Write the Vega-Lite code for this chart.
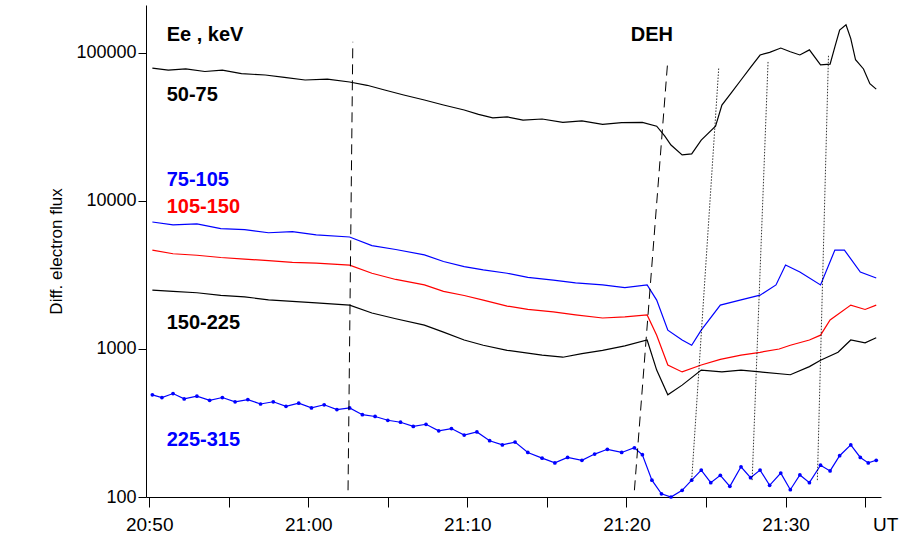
{
  "$schema": "https://vega.github.io/schema/vega-lite/v6.json",
  "width": 735,
  "height": 492,
  "autosize": {"type": "none"},
  "padding": {"left": 146, "top": 5, "right": 31, "bottom": 54},
  "background": "white",
  "config": {"view": {"stroke": null}, "font": "Liberation Sans"},
  "datasets": {
    "flux": [
      {"s":"a","t":0.2,"v":79000},{"s":"a","t":1.2,"v":76500},{"s":"a","t":2.3,"v":78000},{"s":"a","t":3.5,"v":75000},{"s":"a","t":4.6,"v":76500},{"s":"a","t":5.8,"v":72500},{"s":"a","t":7.3,"v":71000},{"s":"a","t":8.5,"v":68500},{"s":"a","t":9.8,"v":65700},{"s":"a","t":11.2,"v":66500},{"s":"a","t":12.6,"v":63700},{"s":"a","t":13.7,"v":60500},{"s":"a","t":14.8,"v":56200},{"s":"a","t":16.0,"v":52000},{"s":"a","t":17.3,"v":48100},{"s":"a","t":18.5,"v":44500},{"s":"a","t":19.8,"v":41200},{"s":"a","t":20.7,"v":38500},{"s":"a","t":21.6,"v":36400},{"s":"a","t":22.5,"v":37000},{"s":"a","t":23.5,"v":35200},{"s":"a","t":24.7,"v":35800},{"s":"a","t":26.0,"v":34000},{"s":"a","t":27.2,"v":34800},{"s":"a","t":28.5,"v":32900},{"s":"a","t":29.7,"v":33800},{"s":"a","t":31.0,"v":34000},{"s":"a","t":31.9,"v":32000},{"s":"a","t":32.4,"v":27500},{"s":"a","t":32.8,"v":23900},{"s":"a","t":33.5,"v":20500},{"s":"a","t":34.1,"v":20800},{"s":"a","t":34.7,"v":25800},{"s":"a","t":35.6,"v":32000},{"s":"a","t":36.0,"v":44500},{"s":"a","t":36.6,"v":54000},{"s":"a","t":37.2,"v":65700},{"s":"a","t":37.8,"v":80000},{"s":"a","t":38.4,"v":96900},{"s":"a","t":39.0,"v":101000},{"s":"a","t":39.7,"v":108000},{"s":"a","t":40.3,"v":102000},{"s":"a","t":40.9,"v":97000},{"s":"a","t":41.5,"v":105000},{"s":"a","t":42.2,"v":83000},{"s":"a","t":42.8,"v":84000},{"s":"a","t":43.1,"v":110000},{"s":"a","t":43.4,"v":143000},{"s":"a","t":43.8,"v":155000},{"s":"a","t":44.1,"v":125000},{"s":"a","t":44.4,"v":90000},{"s":"a","t":44.9,"v":78000},{"s":"a","t":45.3,"v":62000},{"s":"a","t":45.7,"v":57000},

      {"s":"b","t":0.2,"v":7210},{"s":"b","t":1.5,"v":6900},{"s":"b","t":3.0,"v":7000},{"s":"b","t":4.5,"v":6500},{"s":"b","t":6.0,"v":6400},{"s":"b","t":7.5,"v":6100},{"s":"b","t":9.0,"v":6200},{"s":"b","t":10.5,"v":5900},{"s":"b","t":12.6,"v":5710},{"s":"b","t":14.0,"v":5000},{"s":"b","t":15.5,"v":4700},{"s":"b","t":17.3,"v":4320},{"s":"b","t":18.5,"v":3900},{"s":"b","t":19.8,"v":3600},{"s":"b","t":21.0,"v":3420},{"s":"b","t":22.5,"v":3250},{"s":"b","t":23.8,"v":3050},{"s":"b","t":25.4,"v":2920},{"s":"b","t":26.8,"v":2800},{"s":"b","t":28.5,"v":2710},{"s":"b","t":29.9,"v":2600},{"s":"b","t":31.3,"v":2710},{"s":"b","t":31.9,"v":2140},{"s":"b","t":32.6,"v":1340},{"s":"b","t":33.5,"v":1150},{"s":"b","t":34.1,"v":1060},{"s":"b","t":34.7,"v":1340},{"s":"b","t":35.9,"v":1980},{"s":"b","t":37.2,"v":2150},{"s":"b","t":38.4,"v":2310},{"s":"b","t":39.4,"v":2710},{"s":"b","t":40.0,"v":3690},{"s":"b","t":40.9,"v":3310},{"s":"b","t":42.2,"v":2710},{"s":"b","t":43.1,"v":4660},{"s":"b","t":43.7,"v":4660},{"s":"b","t":44.7,"v":3310},{"s":"b","t":45.7,"v":3020},

      {"s":"c","t":0.2,"v":4660},{"s":"c","t":1.5,"v":4400},{"s":"c","t":3.0,"v":4300},{"s":"c","t":4.5,"v":4150},{"s":"c","t":6.0,"v":4050},{"s":"c","t":7.5,"v":3950},{"s":"c","t":9.0,"v":3850},{"s":"c","t":10.5,"v":3800},{"s":"c","t":12.6,"v":3690},{"s":"c","t":14.0,"v":3250},{"s":"c","t":15.5,"v":2950},{"s":"c","t":17.3,"v":2710},{"s":"c","t":18.5,"v":2450},{"s":"c","t":19.8,"v":2300},{"s":"c","t":21.0,"v":2140},{"s":"c","t":22.5,"v":1950},{"s":"c","t":23.8,"v":1850},{"s":"c","t":25.4,"v":1780},{"s":"c","t":26.8,"v":1700},{"s":"c","t":28.5,"v":1620},{"s":"c","t":29.9,"v":1650},{"s":"c","t":31.3,"v":1700},{"s":"c","t":31.9,"v":1240},{"s":"c","t":32.6,"v":780},{"s":"c","t":33.5,"v":700},{"s":"c","t":34.7,"v":780},{"s":"c","t":35.9,"v":850},{"s":"c","t":37.2,"v":910},{"s":"c","t":38.4,"v":950},{"s":"c","t":39.6,"v":1000},{"s":"c","t":40.3,"v":1060},{"s":"c","t":41.5,"v":1150},{"s":"c","t":42.2,"v":1240},{"s":"c","t":42.8,"v":1570},{"s":"c","t":44.1,"v":1980},{"s":"c","t":45.0,"v":1850},{"s":"c","t":45.7,"v":1980},

      {"s":"d","t":0.2,"v":2500},{"s":"d","t":1.5,"v":2450},{"s":"d","t":3.0,"v":2400},{"s":"d","t":4.5,"v":2300},{"s":"d","t":6.0,"v":2250},{"s":"d","t":7.5,"v":2150},{"s":"d","t":9.0,"v":2100},{"s":"d","t":10.5,"v":2050},{"s":"d","t":12.6,"v":1980},{"s":"d","t":14.0,"v":1750},{"s":"d","t":15.5,"v":1600},{"s":"d","t":17.3,"v":1450},{"s":"d","t":18.5,"v":1300},{"s":"d","t":19.8,"v":1150},{"s":"d","t":21.0,"v":1060},{"s":"d","t":22.5,"v":980},{"s":"d","t":24.7,"v":910},{"s":"d","t":26.0,"v":880},{"s":"d","t":27.2,"v":930},{"s":"d","t":28.5,"v":980},{"s":"d","t":29.9,"v":1050},{"s":"d","t":31.3,"v":1150},{"s":"d","t":31.9,"v":720},{"s":"d","t":32.6,"v":490},{"s":"d","t":33.5,"v":570},{"s":"d","t":34.7,"v":720},{"s":"d","t":36.0,"v":700},{"s":"d","t":37.2,"v":720},{"s":"d","t":38.4,"v":700},{"s":"d","t":40.3,"v":670},{"s":"d","t":41.5,"v":760},{"s":"d","t":42.2,"v":840},{"s":"d","t":43.3,"v":950},{"s":"d","t":44.1,"v":1150},{"s":"d","t":45.0,"v":1100},{"s":"d","t":45.7,"v":1190},

      {"s":"e","t":0.2,"v":490},{"s":"e","t":0.8,"v":470},{"s":"e","t":1.5,"v":500},{"s":"e","t":2.2,"v":460},{"s":"e","t":3.0,"v":480},{"s":"e","t":3.8,"v":450},{"s":"e","t":4.6,"v":470},{"s":"e","t":5.4,"v":440},{"s":"e","t":6.2,"v":455},{"s":"e","t":7.0,"v":425},{"s":"e","t":7.8,"v":440},{"s":"e","t":8.6,"v":410},{"s":"e","t":9.4,"v":430},{"s":"e","t":10.2,"v":400},{"s":"e","t":11.0,"v":420},{"s":"e","t":11.8,"v":390},{"s":"e","t":12.6,"v":400},{"s":"e","t":13.4,"v":360},{"s":"e","t":14.2,"v":350},{"s":"e","t":15.0,"v":330},{"s":"e","t":15.8,"v":320},{"s":"e","t":16.6,"v":300},{"s":"e","t":17.4,"v":310},{"s":"e","t":18.2,"v":280},{"s":"e","t":19.0,"v":290},{"s":"e","t":19.8,"v":262},{"s":"e","t":20.6,"v":275},{"s":"e","t":21.4,"v":240},{"s":"e","t":22.2,"v":225},{"s":"e","t":23.0,"v":235},{"s":"e","t":23.8,"v":200},{"s":"e","t":24.7,"v":183},{"s":"e","t":25.5,"v":170},{"s":"e","t":26.3,"v":185},{"s":"e","t":27.2,"v":177},{"s":"e","t":28.0,"v":195},{"s":"e","t":28.8,"v":210},{"s":"e","t":29.7,"v":200},{"s":"e","t":30.5,"v":215},{"s":"e","t":31.0,"v":193},{"s":"e","t":31.6,"v":130},{"s":"e","t":32.2,"v":105},{"s":"e","t":32.8,"v":100},{"s":"e","t":33.5,"v":111},{"s":"e","t":34.1,"v":130},{"s":"e","t":34.7,"v":152},{"s":"e","t":35.3,"v":125},{"s":"e","t":35.9,"v":140},{"s":"e","t":36.5,"v":118},{"s":"e","t":37.2,"v":160},{"s":"e","t":37.8,"v":135},{"s":"e","t":38.4,"v":152},{"s":"e","t":39.0,"v":120},{"s":"e","t":39.7,"v":145},{"s":"e","t":40.3,"v":112},{"s":"e","t":40.9,"v":141},{"s":"e","t":41.5,"v":125},{"s":"e","t":42.2,"v":164},{"s":"e","t":42.8,"v":150},{"s":"e","t":43.4,"v":190},{"s":"e","t":44.1,"v":225},{"s":"e","t":44.7,"v":185},{"s":"e","t":45.2,"v":170},{"s":"e","t":45.7,"v":177}
    ],
    "guides": [
      {"g":"d1","t":12.8,"v":119000},{"g":"d1","t":12.5,"v":111},
      {"g":"d2","t":32.6,"v":89800},{"g":"d2","t":30.5,"v":111},
      {"g":"p1","t":35.8,"v":79000},{"g":"p1","t":34.1,"v":130},
      {"g":"p2","t":38.9,"v":87000},{"g":"p2","t":37.9,"v":130},
      {"g":"p3","t":42.7,"v":97000},{"g":"p3","t":42.0,"v":130}
    ],
    "labels": [
      {"txt":"Ee , keV","t":1.1,"v":132000,"c":"black"},
      {"txt":"50-75","t":1.1,"v":52000,"c":"black"},
      {"txt":"75-105","t":1.1,"v":13900,"c":"#0000ff"},
      {"txt":"105-150","t":1.1,"v":9100,"c":"#ff0000"},
      {"txt":"150-225","t":1.1,"v":1500,"c":"black"},
      {"txt":"225-315","t":1.1,"v":243,"c":"#0000ff"}
    ]
  },
  "layer": [
    {
      "data": {"name": "flux"},
      "mark": {"type": "line", "strokeWidth": 1.2},
      "encoding": {
        "x": {"field": "t", "type": "quantitative", "scale": {"domain": [-0.2, 46], "nice": false, "zero": false},
          "axis": {"values": [0,5,10,15,20,25,30,35,40,45], "labelExpr": "datum.value % 10 == 0 ? ['20:50','21:00','21:10','21:20','21:30'][datum.value/10] : ''",
            "title": null, "grid": false, "domainColor": "black", "tickColor": "black", "tickSize": 10, "labelFontSize": 19, "labelColor": "black", "labelPadding": 8, "labelFont": "Liberation Sans"}},
        "y": {"field": "v", "type": "quantitative", "scale": {"type": "log", "domain": [100, 211000], "nice": false},
          "axis": {"values": [100, 1000, 10000, 100000], "format": "d", "title": "Diff. electron flux", "titleFontSize": 17, "titleFontWeight": "normal", "titleColor": "black", "titlePadding": 10,
            "grid": false, "domainColor": "black", "tickColor": "black", "tickSize": 8, "labelFontSize": 18, "labelColor": "black", "labelFont": "Liberation Sans"}},
        "color": {"field": "s", "type": "nominal", "legend": null,
          "scale": {"domain": ["a","b","c","d","e"], "range": ["black","#0000ff","#ff0000","black","#0000ff"]}},
        "detail": {"field": "s"}
      }
    },
    {
      "data": {"name": "flux"},
      "transform": [{"filter": "datum.s == 'e'"}],
      "mark": {"type": "circle", "size": 14, "color": "#0000ff", "opacity": 1},
      "encoding": {"x": {"field": "t", "type": "quantitative"}, "y": {"field": "v", "type": "quantitative"}}
    },
    {
      "data": {"name": "guides"},
      "transform": [{"filter": "datum.g[0] == 'd'"}],
      "mark": {"type": "line", "color": "black", "strokeWidth": 1, "strokeDash": [10, 6]},
      "encoding": {"x": {"field": "t", "type": "quantitative"}, "y": {"field": "v", "type": "quantitative"}, "detail": {"field": "g"}}
    },
    {
      "data": {"name": "guides"},
      "transform": [{"filter": "datum.g[0] == 'p'"}],
      "mark": {"type": "line", "color": "black", "strokeWidth": 0.8, "strokeDash": [1.5, 1.5]},
      "encoding": {"x": {"field": "t", "type": "quantitative"}, "y": {"field": "v", "type": "quantitative"}, "detail": {"field": "g"}}
    },
    {
      "data": {"name": "labels"},
      "mark": {"type": "text", "fontSize": 20, "fontWeight": "bold", "baseline": "middle", "align": "left", "font": "Liberation Sans"},
      "encoding": {
        "x": {"field": "t", "type": "quantitative"},
        "y": {"field": "v", "type": "quantitative"},
        "text": {"field": "txt"},
        "color": {"field": "c", "type": "nominal", "scale": null}
      }
    },
    {
      "data": {"values": [{"txt": "DEH", "t": 31.6, "v": 132000}]},
      "mark": {"type": "text", "fontSize": 20, "fontWeight": "bold", "baseline": "middle", "align": "center", "color": "black", "font": "Liberation Sans"},
      "encoding": {"x": {"field": "t", "type": "quantitative"}, "y": {"field": "v", "type": "quantitative"}, "text": {"field": "txt"}}
    },
    {
      "data": {"values": [{"txt": "UT", "t": 45.5, "v": 64.6}]},
      "mark": {"type": "text", "fontSize": 19, "baseline": "middle", "align": "left", "clip": false, "color": "black", "font": "Liberation Sans"},
      "encoding": {"x": {"field": "t", "type": "quantitative"}, "y": {"field": "v", "type": "quantitative"}, "text": {"field": "txt"}}
    }
  ]
}
